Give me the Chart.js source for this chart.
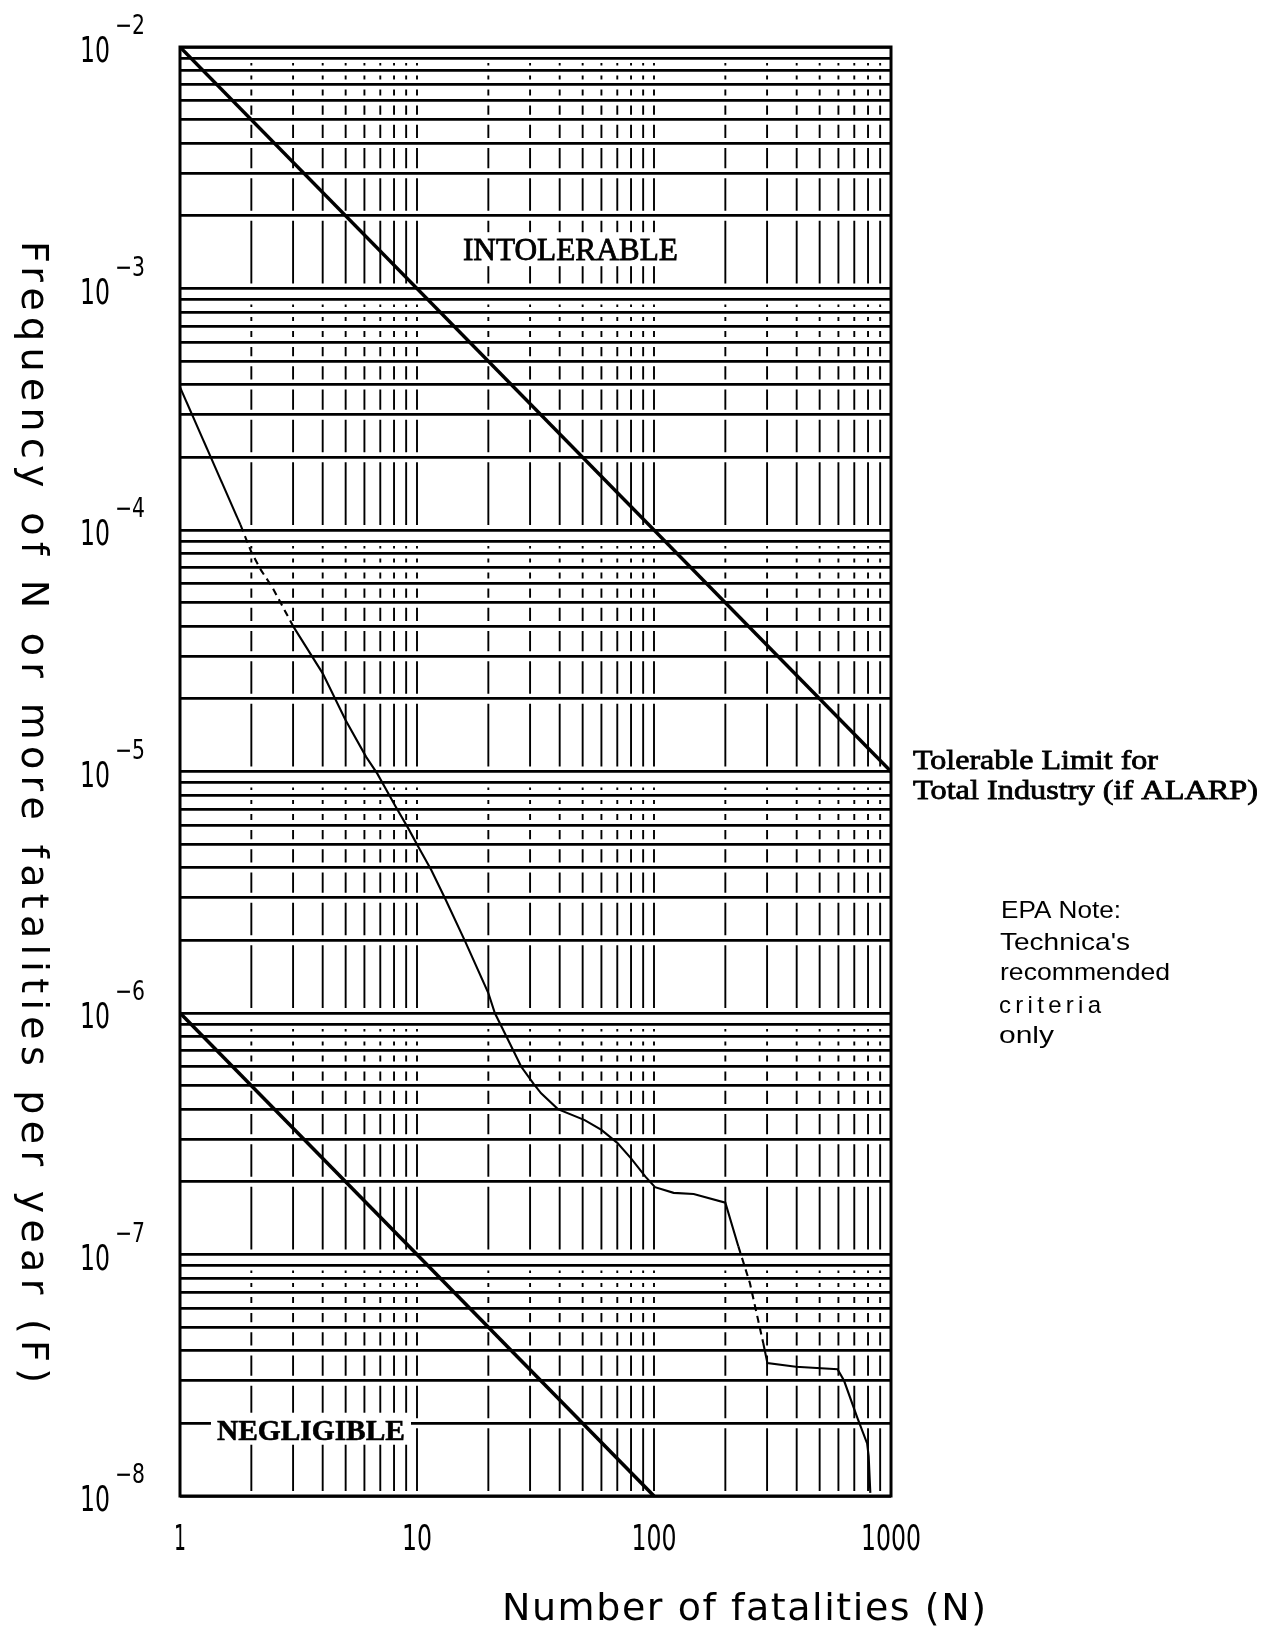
<!DOCTYPE html>
<html>
<head>
<meta charset="utf-8">
<script src="https://cdn.jsdelivr.net/npm/chart.js@4/dist/chart.umd.min.js"></script>
<style>
  html, body { margin: 0; padding: 0; background: #fff; }
  canvas { display: block; }
</style>
</head>
<body>
<canvas id="fnChart" width="1275" height="1631"></canvas>
<script>
// F-N curve (N, frequency of N or more per year)
const curveN = [1, 1.8, 2.0, 2.2, 2.45, 3.0, 4.0, 5.0, 6.1, 6.8, 8.1, 9.2, 10.1, 11.5, 13.2, 16, 20, 21.3,
  24.3, 27.5, 31, 33.4, 39.3, 51, 60, 70, 80, 92, 101, 121, 147, 200, 227, 254, 289, 301, 397, 595,
  634, 722, 793, 805, 818];
const curveF = [3.9e-4, 1.05e-4, 8.1e-5, 6.8e-5, 5.8e-5, 4.0e-5, 2.55e-5, 1.63e-5, 1.15e-5, 9.8e-6, 7.2e-6, 5.8e-6, 4.9e-6, 3.9e-6, 2.95e-6, 1.97e-6, 1.21e-6, 1.0e-6,
  7.7e-7, 6.0e-7, 5.1e-7, 4.65e-7, 4.0e-7, 3.6e-7, 3.28e-7, 2.9e-7, 2.5e-7, 2.1e-7, 1.9e-7, 1.8e-7, 1.78e-7, 1.64e-7, 1.08e-7, 7.6e-8, 4.3e-8, 3.55e-8, 3.43e-8, 3.35e-8,
  3.0e-8, 2.1e-8, 1.65e-8, 1.46e-8, 1.03e-8];

// tolerable limit for total industry, and the negligible line
const tolerableN = [1, 1000];
const tolerableF = [1e-2, 1e-5];
const negligibleN = [1, 100];
const negligibleF = [1e-6, 1e-8];

const xTickValues = [1, 10, 100, 1000];
const xTickLabels = ['1', '10', '100', '1000'];
const yTickExps = [-2, -3, -4, -5, -6, -7, -8];

// 1..9 in every decade, for the ruled paper
function decades(lo, hi) {
  let out = [];
  for (let e = lo; e < hi; e++) {
    for (let m = 1; m < 10; m++) out.push(m * Math.pow(10, e));
  }
  out.push(Math.pow(10, hi));
  return out;
}
const xGrid = decades(0, 3);
const yGrid = decades(-8, -2);

// spans of the curve that come out broken on the scan
const dashedSpans = [[1.8, 3.0], [227, 289]];

const ink = '#000';

// draw text squeezed/stretched to a given width; heavy adds a thin outline like the scan
function put(ctx, str, x, y, font, width, align, heavy) {
  ctx.font = font;
  const w = ctx.measureText(str).width;
  const s = width ? width / w : 1;
  const dw = w * s;
  let left = x;
  if (align === 'center') left = x - dw / 2;
  if (align === 'right') left = x - dw;
  ctx.save();
  ctx.translate(left, y);
  ctx.scale(s, 1);
  ctx.textAlign = 'left';
  ctx.textBaseline = 'alphabetic';
  ctx.fillText(str, 0, 0);
  if (heavy) {
    ctx.lineWidth = heavy;
    ctx.strokeStyle = ink;
    ctx.strokeText(str, 0, 0);
  }
  ctx.restore();
}

function spaced(ctx, str, x, y, font, width) {
  ctx.font = font;
  ctx.letterSpacing = '0px';
  const w = ctx.measureText(str).width;
  ctx.letterSpacing = ((width - w) / (str.length - 1)) + 'px';
  ctx.textAlign = 'left';
  ctx.textBaseline = 'alphabetic';
  ctx.fillText(str, x, y);
  ctx.letterSpacing = '0px';
}

const paper = {
  id: 'paper',
  beforeDatasetsDraw(chart) {
    const { ctx, chartArea: a, scales: { x, y } } = chart;
    const rows = yGrid.map(v => y.getPixelForValue(v)).sort((p, q) => p - q);
    ctx.save();
    ctx.strokeStyle = ink;
    ctx.lineWidth = 1.9;
    // vertical rulings stop short of every horizontal line
    xGrid.forEach(v => {
      if (v <= 1 || v >= 1000) return;
      const px = x.getPixelForValue(v);
      ctx.beginPath();
      for (let i = 0; i < rows.length - 1; i++) {
        const t = rows[i] + 5, b = rows[i + 1] - 5;
        if (b - t < 1.5) continue;
        ctx.moveTo(px, t);
        ctx.lineTo(px, b);
      }
      ctx.stroke();
    });
    ctx.lineWidth = 3;
    ctx.strokeRect(a.left, a.top, a.right - a.left, a.bottom - a.top);

    // region labels on white
    let cx = x.getPixelForValue(44.4), by = y.getPixelForValue(1.31e-3);
    ctx.fillStyle = '#fff';
    ctx.fillRect(cx - 112, by - 28, 224, 34);
    ctx.fillStyle = ink;
    put(ctx, 'INTOLERABLE', cx, by, '32px "Liberation Serif", serif', 215, 'center', 0.8);

    cx = x.getPixelForValue(3.57);
    by = y.getPixelForValue(1.71e-8);
    ctx.fillStyle = '#fff';
    ctx.fillRect(cx - 100, by - 27, 200, 32);
    ctx.fillStyle = ink;
    put(ctx, 'NEGLIGIBLE', cx, by, 'bold 30px "Liberation Serif", serif', 188, 'center', 0.6);
    ctx.restore();
  },
  afterDraw(chart) {
    const { ctx, chartArea: a, scales: { x, y } } = chart;
    ctx.save();
    ctx.fillStyle = ink;
    const tickFont = '35px "DejaVu Sans", sans-serif';
    const supFont = '27px "DejaVu Sans", sans-serif';
    yTickExps.forEach(e => {
      const py = y.getPixelForValue(Math.pow(10, e));
      put(ctx, '10', a.left - 70, py + 15, tickFont, 30, 'right');
      put(ctx, '\u2212' + Math.abs(e), a.left - 65, py - 13, supFont, 30, 'left');
    });
    xTickValues.forEach((v, i) => {
      const px = x.getPixelForValue(v);
      const s = xTickLabels[i];
      put(ctx, s, px, a.bottom + 54, tickFont, s.length === 1 ? 12 : s.length * 15, 'center');
    });

    // axis titles
    spaced(ctx, 'Number of fatalities (N)', 502, 1620, '38px "DejaVu Sans", sans-serif', 484);
    ctx.save();
    ctx.translate(22, 241);
    ctx.rotate(Math.PI / 2);
    spaced(ctx, 'Frequency of N or more fatalities per year (F)', 0, 0, '38px "DejaVu Sans", sans-serif', 1142);
    ctx.restore();

    // right-hand notes
    const ly = y.getPixelForValue(1e-5);
    put(ctx, 'Tolerable Limit for', a.right + 22, ly - 3, '28px "Liberation Serif", serif', 245, 'left', 0.8);
    put(ctx, 'Total Industry (if ALARP)', a.right + 22, ly + 27, '28px "Liberation Serif", serif', 345, 'left', 0.8);

    const noteFont = '24px "Liberation Sans", Arial, sans-serif';
    put(ctx, 'EPA Note:', 1001, 918, noteFont, 120, 'left');
    put(ctx, "Technica's", 1000, 950, noteFont, 130, 'left');
    put(ctx, 'recommended', 1000, 980, noteFont, 170, 'left');
    spaced(ctx, 'criteria', 999, 1013, noteFont, 102);
    put(ctx, 'only', 999, 1043, noteFont, 55, 'left');
    ctx.restore();
  }
};

const pts = (xs, ys) => xs.map((n, i) => ({ x: n, y: ys[i] }));

new Chart(document.getElementById('fnChart'), {
  type: 'line',
  data: {
    datasets: [
      {
        label: 'Tolerable limit',
        data: pts(tolerableN, tolerableF),
        borderColor: ink,
        borderWidth: 3.4,
        pointRadius: 0,
      },
      {
        label: 'Negligible',
        data: pts(negligibleN, negligibleF),
        borderColor: ink,
        borderWidth: 3.6,
        pointRadius: 0,
      },
      {
        label: 'F-N curve',
        data: pts(curveN, curveF),
        borderColor: ink,
        borderWidth: 2.1,
        pointRadius: 0,
        segment: {
          borderDash: (c) => dashedSpans.some(([lo, hi]) => c.p0.parsed.x >= lo && c.p1.parsed.x <= hi) ? [7, 5] : undefined,
        },
      },
    ],
  },
  options: {
    responsive: false,
    animation: false,
    layout: { padding: { left: 180, top: 47, right: 384, bottom: 135 } },
    plugins: { legend: { display: false }, tooltip: { enabled: false } },
    scales: {
      x: {
        type: 'logarithmic',
        min: 1,
        max: 1000,
        afterBuildTicks: (s) => { s.ticks = xGrid.map(v => ({ value: v })); },
        ticks: { display: false },
        grid: { display: false, drawTicks: false },
        border: { display: false },
      },
      y: {
        type: 'logarithmic',
        min: 1e-8,
        max: 1e-2,
        afterBuildTicks: (s) => { s.ticks = yGrid.map(v => ({ value: v })); },
        ticks: { display: false },
        grid: { color: ink, lineWidth: 2.8, drawTicks: false },
        border: { display: false },
      },
    },
  },
  plugins: [paper],
});
</script>
</body>
</html>
